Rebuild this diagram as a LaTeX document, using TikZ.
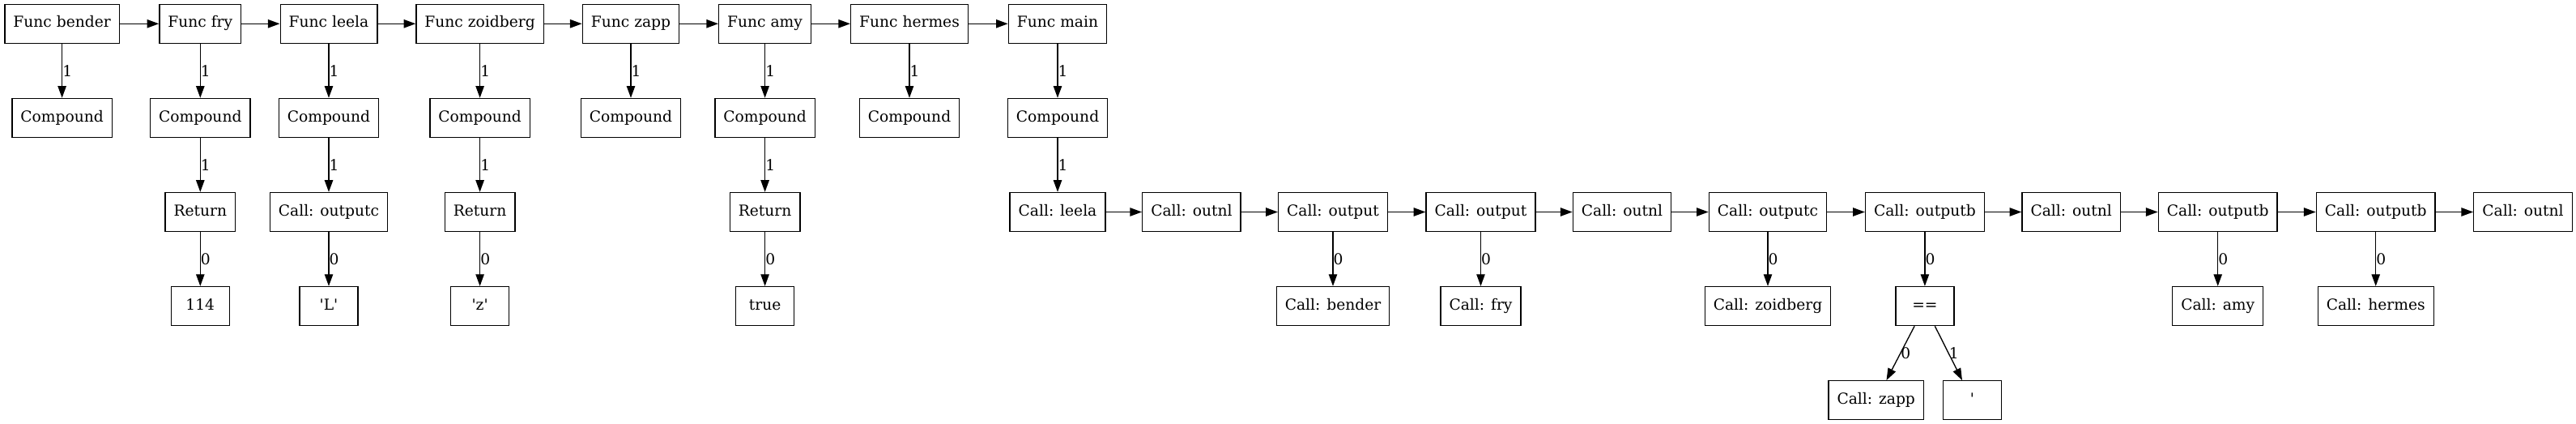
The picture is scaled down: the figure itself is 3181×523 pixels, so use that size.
\documentclass[tikz,border=0pt]{standalone}
\usepackage{fontspec}
\setmainfont{DejaVu Serif}
\usetikzlibrary{arrows.meta}
\begin{document}
\begin{tikzpicture}[x=0.75pt,y=-0.75pt,
  gvbox/.style={draw, line width=1pt, rectangle, minimum width=54pt, minimum height=36pt,
    inner xsep=7.92pt, inner ysep=0pt, text height=10pt, text depth=3pt,
    font=\fontsize{14pt}{16pt}\selectfont},
  gvedge/.style={line width=1pt, -{Triangle[length=11pt,width=7.8pt]}},
  elab/.style={midway, right, inner sep=0pt, font=\fontsize{14pt}{16pt}\selectfont}]
\useasboundingbox (0,0) rectangle (3181,523);
% rows
\def\ra{29.3}\def\rb{145.4}\def\rc{261.5}\def\rd{377.6}\def\re{493.7}
% row 1
\node[gvbox] (fb)  at (76.6,\ra)  {Func bender};
\node[gvbox] (ff)  at (247.3,\ra) {Func fry};
\node[gvbox] (fl)  at (406,\ra)   {Func leela};
\node[gvbox] (fz)  at (592.6,\ra) {Func zoidberg};
\node[gvbox] (fzp) at (779,\ra)   {Func zapp};
\node[gvbox] (fa)  at (944.6,\ra) {Func amy};
\node[gvbox] (fh)  at (1123,\ra)  {Func hermes};
\node[gvbox] (fm)  at (1306,\ra)  {Func main};
% row 2
\node[gvbox] (cb)  at (76.6,\rb)  {Compound};
\node[gvbox] (cf)  at (247.3,\rb) {Compound};
\node[gvbox] (cl)  at (406,\rb)   {Compound};
\node[gvbox] (cz)  at (592.6,\rb) {Compound};
\node[gvbox] (czp) at (779,\rb)   {Compound};
\node[gvbox] (ca)  at (944.6,\rb) {Compound};
\node[gvbox] (ch)  at (1123,\rb)  {Compound};
\node[gvbox] (cm)  at (1306,\rb)  {Compound};
% row 3
\node[gvbox] (rf)  at (247.3,\rc) {Return};
\node[gvbox] (oc)  at (406,\rc)   {Call: outputc};
\node[gvbox] (rz)  at (592.6,\rc) {Return};
\node[gvbox] (ra)  at (944.6,\rc) {Return};
\node[gvbox] (m0)  at (1306,\rc)   {Call: leela};
\node[gvbox] (m1)  at (1471.4,\rc) {Call: outnl};
\node[gvbox] (m2)  at (1646,\rc)   {Call: output};
\node[gvbox] (m3)  at (1828.5,\rc) {Call: output};
\node[gvbox] (m4)  at (2003,\rc)   {Call: outnl};
\node[gvbox] (m5)  at (2183,\rc)   {Call: outputc};
\node[gvbox] (m6)  at (2376.9,\rc) {Call: outputb};
\node[gvbox] (m7)  at (2557.7,\rc) {Call: outnl};
\node[gvbox] (m8)  at (2738.7,\rc) {Call: outputb};
\node[gvbox] (m9)  at (2933.7,\rc) {Call: outputb};
\node[gvbox] (m10) at (3115.5,\rc) {Call: outnl};
% row 4
\node[gvbox] (v114)  at (247.3,\rd) {114};
\node[gvbox] (vL)    at (406,\rd)   {\textquotesingle L\textquotesingle};
\node[gvbox] (vz)    at (592.6,\rd) {\textquotesingle z\textquotesingle};
\node[gvbox] (vtrue) at (944.6,\rd) {true};
\node[gvbox] (kb)  at (1646,\rd)   {Call: bender};
\node[gvbox] (kf)  at (1828.5,\rd) {Call: fry};
\node[gvbox] (kz)  at (2183,\rd)   {Call: zoidberg};
\node[gvbox] (eq)  at (2376.9,\rd) {==};
\node[gvbox] (ka)  at (2738.7,\rd) {Call: amy};
\node[gvbox] (kh)  at (2933.7,\rd) {Call: hermes};
% row 5
\node[gvbox] (kzp) at (2316.7,\re) {Call: zapp};
\node[gvbox] (q)   at (2435.4,\re) {\textquotesingle};
% horizontal chains
\foreach \a/\b in {fb/ff,ff/fl,fl/fz,fz/fzp,fzp/fa,fa/fh,fh/fm,
  m0/m1,m1/m2,m2/m3,m3/m4,m4/m5,m5/m6,m6/m7,m7/m8,m8/m9,m9/m10}
  \draw[gvedge] (\a) -- (\b);
% labelled edges
\foreach \a/\b/\l in {fb/cb/1,ff/cf/1,fl/cl/1,fz/cz/1,fzp/czp/1,fa/ca/1,fh/ch/1,fm/cm/1,
  cf/rf/1,cl/oc/1,cz/rz/1,ca/ra/1,cm/m0/1,
  rf/v114/0,oc/vL/0,rz/vz/0,ra/vtrue/0,
  m2/kb/0,m3/kf/0,m5/kz/0,m6/eq/0,m8/ka/0,m9/kh/0,
  eq/kzp/0,eq/q/1}
  \draw[gvedge] (\a) -- node[elab]{\l} (\b);
\end{tikzpicture}
\end{document}
